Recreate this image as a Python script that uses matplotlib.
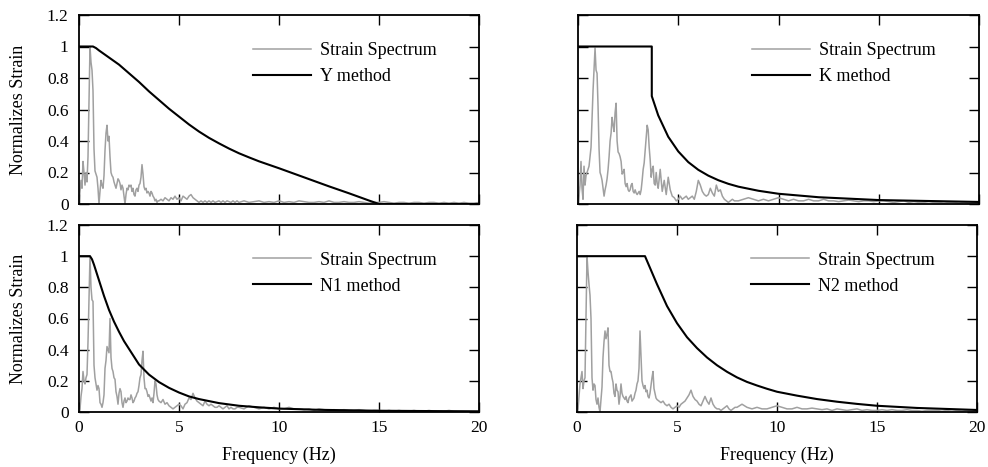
import numpy as np
import matplotlib
matplotlib.use("Agg")
import matplotlib.pyplot as plt

plt.rcParams['font.family'] = ['Liberation Serif', 'DejaVu Serif']

# ---------------- data ----------------
freq_lo = np.round(np.arange(0, 4, 0.05), 2)      # 80 pts
freq_mid = np.round(np.arange(4, 8, 0.1), 1)      # 40 pts
freq_hi = np.arange(8, 20.001, 0.25)              # 49 pts
freq = np.concatenate([freq_lo, freq_mid, freq_hi])

y_spec_lo = [0.00,0.08,0.15,0.10,0.27,0.20,0.12,0.20,0.14,0.30,0.66,1.00,0.90,0.85,0.72,0.35,0.21,0.19,0.17,0.10,
             0.00,0.08,0.15,0.12,0.10,0.18,0.34,0.45,0.50,0.40,0.43,0.30,0.20,0.18,0.17,0.14,0.12,0.10,0.13,0.16,
             0.15,0.13,0.09,0.12,0.10,0.05,0.00,0.06,0.10,0.09,0.12,0.11,0.12,0.08,0.10,0.06,0.05,0.09,0.10,0.08,
             0.12,0.13,0.17,0.25,0.19,0.11,0.09,0.10,0.07,0.08,0.07,0.05,0.08,0.07,0.05,0.04,0.02,0.03,0.01,0.02]
y_spec_mid = [0.02,0.03,0.02,0.04,0.03,0.02,0.04,0.03,0.05,0.03,
              0.04,0.02,0.05,0.04,0.03,0.05,0.06,0.04,0.03,0.02,
              0.01,0.02,0.01,0.02,0.01,0.02,0.01,0.02,0.01,0.015,
              0.02,0.01,0.02,0.01,0.02,0.015,0.01,0.02,0.01,0.02]
y_spec_hi = [0.01,0.02,0.01,0.015,0.02,0.01,0.015,0.01,0.02,0.01,
             0.015,0.01,0.02,0.015,0.01,0.01,0.015,0.01,0.02,0.01,
             0.01,0.015,0.01,0.01,0.015,0.01,0.005,0.01,0.01,0.015,
             0.01,0.005,0.01,0.01,0.005,0.01,0.01,0.005,0.01,0.01,
             0.005,0.01,0.005,0.01,0.005,0.01,0.005,0.005,0.01]

k_spec_lo = [0.00,0.05,0.12,0.27,0.10,0.03,0.24,0.12,0.18,0.20,0.22,0.24,0.30,0.36,0.55,0.72,0.85,0.99,0.85,0.83,
             0.62,0.35,0.20,0.18,0.15,0.10,0.05,0.09,0.12,0.16,0.22,0.30,0.40,0.45,0.55,0.50,0.46,0.58,0.64,0.40,
             0.33,0.32,0.30,0.27,0.19,0.20,0.22,0.13,0.11,0.13,0.09,0.08,0.09,0.12,0.13,0.08,0.07,0.09,0.07,0.06,
             0.07,0.08,0.06,0.09,0.15,0.22,0.26,0.34,0.42,0.50,0.47,0.36,0.28,0.17,0.22,0.24,0.13,0.12,0.20,0.13]
k_spec_mid = [0.10,0.22,0.08,0.15,0.06,0.17,0.09,0.05,0.04,0.02,
              0.03,0.05,0.03,0.04,0.05,0.03,0.04,0.05,0.03,0.08,
              0.15,0.12,0.08,0.06,0.05,0.06,0.10,0.07,0.05,0.12,
              0.08,0.09,0.05,0.03,0.02,0.01,0.02,0.03,0.02,0.02]
k_spec_hi = [0.02,0.03,0.04,0.03,0.02,0.03,0.02,0.03,0.04,0.03,
             0.02,0.03,0.02,0.02,0.03,0.02,0.02,0.03,0.02,0.02,
             0.015,0.02,0.025,0.02,0.015,0.02,0.02,0.015,0.02,0.02,
             0.015,0.01,0.015,0.02,0.01,0.015,0.01,0.01,0.015,0.01,
             0.01,0.005,0.01,0.01,0.005,0.01,0.005,0.01,0.005]

n1_spec_lo = [0.00,0.02,0.10,0.15,0.26,0.20,0.18,0.22,0.24,0.45,0.72,1.00,0.80,0.72,0.71,0.30,0.22,0.18,0.14,0.17,
              0.15,0.06,0.05,0.03,0.06,0.11,0.28,0.33,0.42,0.40,0.38,0.60,0.35,0.28,0.26,0.22,0.21,0.13,0.10,0.05,
              0.12,0.15,0.13,0.06,0.03,0.07,0.09,0.06,0.07,0.09,0.08,0.08,0.11,0.09,0.06,0.07,0.09,0.10,0.12,0.13,
              0.17,0.22,0.24,0.33,0.39,0.22,0.15,0.15,0.13,0.10,0.11,0.09,0.07,0.09,0.06,0.12,0.20,0.18,0.11,0.08]
n1_spec_mid = [0.07,0.06,0.08,0.05,0.06,0.04,0.03,0.02,0.03,0.04,
               0.05,0.04,0.02,0.05,0.06,0.09,0.08,0.12,0.09,0.07,
               0.06,0.05,0.04,0.07,0.05,0.04,0.05,0.04,0.03,0.03,
               0.04,0.03,0.02,0.03,0.04,0.02,0.03,0.02,0.02,0.03]
n1_spec_hi = [0.03,0.02,0.04,0.03,0.02,0.03,0.02,0.03,0.02,0.02,
              0.03,0.02,0.02,0.015,0.02,0.01,0.02,0.015,0.01,0.015,
              0.01,0.015,0.01,0.01,0.015,0.01,0.005,0.01,0.01,0.005,
              0.01,0.005,0.01,0.005,0.005,0.01,0.005,0.005,0.01,0.005,
              0.005,0.005,0.01,0.005,0.005,0.005,0.005,0.005,0.005]

n2_spec_lo = [0.00,0.02,0.10,0.18,0.22,0.26,0.15,0.20,0.22,0.60,1.00,0.90,0.82,0.75,0.60,0.22,0.14,0.18,0.17,0.08,
              0.05,0.09,0.03,0.00,0.08,0.16,0.35,0.45,0.52,0.47,0.50,0.54,0.30,0.26,0.26,0.22,0.19,0.12,0.10,0.18,
              0.14,0.13,0.05,0.10,0.18,0.12,0.10,0.09,0.08,0.10,0.07,0.06,0.09,0.10,0.11,0.07,0.08,0.09,0.12,0.14,
              0.18,0.20,0.28,0.52,0.36,0.20,0.17,0.15,0.17,0.13,0.14,0.10,0.09,0.12,0.17,0.22,0.26,0.15,0.12,0.09]
n2_spec_mid = [0.08,0.07,0.06,0.07,0.05,0.04,0.05,0.03,0.02,0.03,
               0.04,0.03,0.05,0.06,0.07,0.09,0.11,0.14,0.10,0.08,
               0.07,0.05,0.04,0.07,0.10,0.07,0.05,0.09,0.05,0.03,
               0.02,0.02,0.01,0.02,0.03,0.04,0.02,0.01,0.02,0.03]
n2_spec_hi = [0.03,0.05,0.03,0.02,0.03,0.02,0.02,0.03,0.04,0.03,
              0.02,0.02,0.03,0.02,0.02,0.025,0.02,0.015,0.02,0.01,
              0.02,0.015,0.01,0.015,0.02,0.01,0.015,0.01,0.01,0.015,
              0.01,0.015,0.01,0.01,0.015,0.01,0.01,0.005,0.01,0.01,
              0.01,0.005,0.01,0.015,0.01,0.005,0.01,0.005,0.01]

# method (filter) curves
y_meth_f = [0, 0.7, 0.85, 1, 1.5, 2, 2.5, 3, 3.5, 4, 4.5, 5, 5.5, 6, 6.5, 7, 7.5, 8, 8.5, 9, 9.5,
            10, 10.5, 11, 11.5, 12, 12.5, 13, 13.5, 14, 14.5, 15, 20]
y_meth_v = [1, 1, 0.99, 0.975, 0.93, 0.885, 0.83, 0.775, 0.715, 0.66, 0.605, 0.555, 0.505, 0.46, 0.42,
            0.385, 0.352, 0.322, 0.296, 0.271, 0.249, 0.227, 0.204, 0.181, 0.158, 0.135, 0.112, 0.09,
            0.068, 0.045, 0.022, 0, 0]
k_meth_f = [0, 3.68, 3.68, 4, 4.5, 5, 5.5, 6, 6.5, 7, 7.5, 8, 9, 10, 12, 15, 20]
k_meth_v = [1, 1, 0.685, 0.563, 0.427, 0.334, 0.266, 0.217, 0.18, 0.151, 0.128, 0.110, 0.084, 0.065,
            0.043, 0.025, 0.013]
n1_meth_f = [0, 0.55, 0.65, 0.75, 0.85, 1, 1.25, 1.5, 1.75, 2, 2.25, 2.5, 2.75, 3, 3.5, 4, 4.5, 5, 5.5,
             6, 7, 8, 9, 10, 12, 15, 20]
n1_meth_v = [1, 1, 0.98, 0.945, 0.905, 0.845, 0.745, 0.655, 0.58, 0.515, 0.455, 0.405, 0.355, 0.305,
             0.24, 0.192, 0.155, 0.125, 0.10, 0.083, 0.057, 0.040, 0.030, 0.022, 0.014, 0.008, 0.004]
n2_meth_f = [0, 3.4, 4, 4.5, 5, 5.5, 6, 6.5, 7, 7.5, 8, 8.5, 9, 9.5, 10, 11, 12, 13, 14, 15, 17, 20]
n2_meth_v = [1, 1, 0.82, 0.68, 0.57, 0.48, 0.41, 0.35, 0.30, 0.258, 0.222, 0.193, 0.17, 0.149, 0.13,
             0.105, 0.083, 0.066, 0.052, 0.040, 0.026, 0.013]

method_labels = ["Y method", "K method", "N1 method", "N2 method"]
spectrum_label = "Strain Spectrum"
ylabel = "Normalizes Strain"
xlabel = "Frequency (Hz)"
xticks = [0, 5, 10, 15, 20]
yticks = [0, 0.2, 0.4, 0.6, 0.8, 1, 1.2]
ytick_labels = ["0", "0.2", "0.4", "0.6", "0.8", "1", "1.2"]

# ---------------- figure ----------------
fig = plt.figure(figsize=(9.88, 4.67), dpi=100)
W, H = 988, 467

def px_axes(left, top, right, bottom):
    return fig.add_axes([left / W, (H - bottom) / H, (right - left) / W, (bottom - top) / H])

ax_tl = px_axes(79, 15, 479, 204)
ax_tr = px_axes(578, 15, 979, 204)
ax_bl = px_axes(79, 225, 479, 412)
ax_br = px_axes(577, 225, 977, 412)

panels = [
    (ax_tl, np.concatenate([y_spec_lo, y_spec_mid, y_spec_hi]), y_meth_f, y_meth_v, method_labels[0], True, False),
    (ax_tr, np.concatenate([k_spec_lo, k_spec_mid, k_spec_hi]), k_meth_f, k_meth_v, method_labels[1], False, False),
    (ax_bl, np.concatenate([n1_spec_lo, n1_spec_mid, n1_spec_hi]), n1_meth_f, n1_meth_v, method_labels[2], True, True),
    (ax_br, np.concatenate([n2_spec_lo, n2_spec_mid, n2_spec_hi]), n2_meth_f, n2_meth_v, method_labels[3], False, True),
]

FS = 12.5
for ax, spec, mf, mv, mlab, left, bottom in panels:
    ax.plot(freq, spec, color='#a0a0a0', lw=1.1, label=spectrum_label)
    ax.plot(mf, mv, color='black', lw=1.5, label=mlab)
    ax.set_xlim(0, 20)
    ax.set_ylim(0, 1.2)
    ax.set_xticks(xticks)
    ax.set_yticks(yticks)
    ax.tick_params(direction='in', length=7, width=1.0, top=True, right=True,
                   labelsize=FS, colors='black')
    ax.tick_params(axis='x', pad=6)
    ax.tick_params(axis='y', pad=7.5)
    for s in ax.spines.values():
        s.set_linewidth(1.3)
        s.set_color('black')
    if left:
        ax.set_yticklabels(ytick_labels)
        ax.set_ylabel(ylabel, fontsize=FS + 0.5)
        ax.yaxis.set_label_coords(-0.13, 0.5)
    else:
        ax.set_yticklabels([])
    if bottom:
        ax.set_xticklabels([str(t) for t in xticks])
        ax.set_xlabel(xlabel, fontsize=13)
        ax.xaxis.set_label_coords(0.5, -0.187)
    else:
        ax.set_xticklabels([])
    ax.legend(loc='upper left', bbox_to_anchor=(0.435, 0.858), frameon=False,
              fontsize=13, handlelength=3.2, handletextpad=0.5, labelspacing=0.5,
              borderpad=0, borderaxespad=0)

fig.savefig("out.png", dpi=100)
